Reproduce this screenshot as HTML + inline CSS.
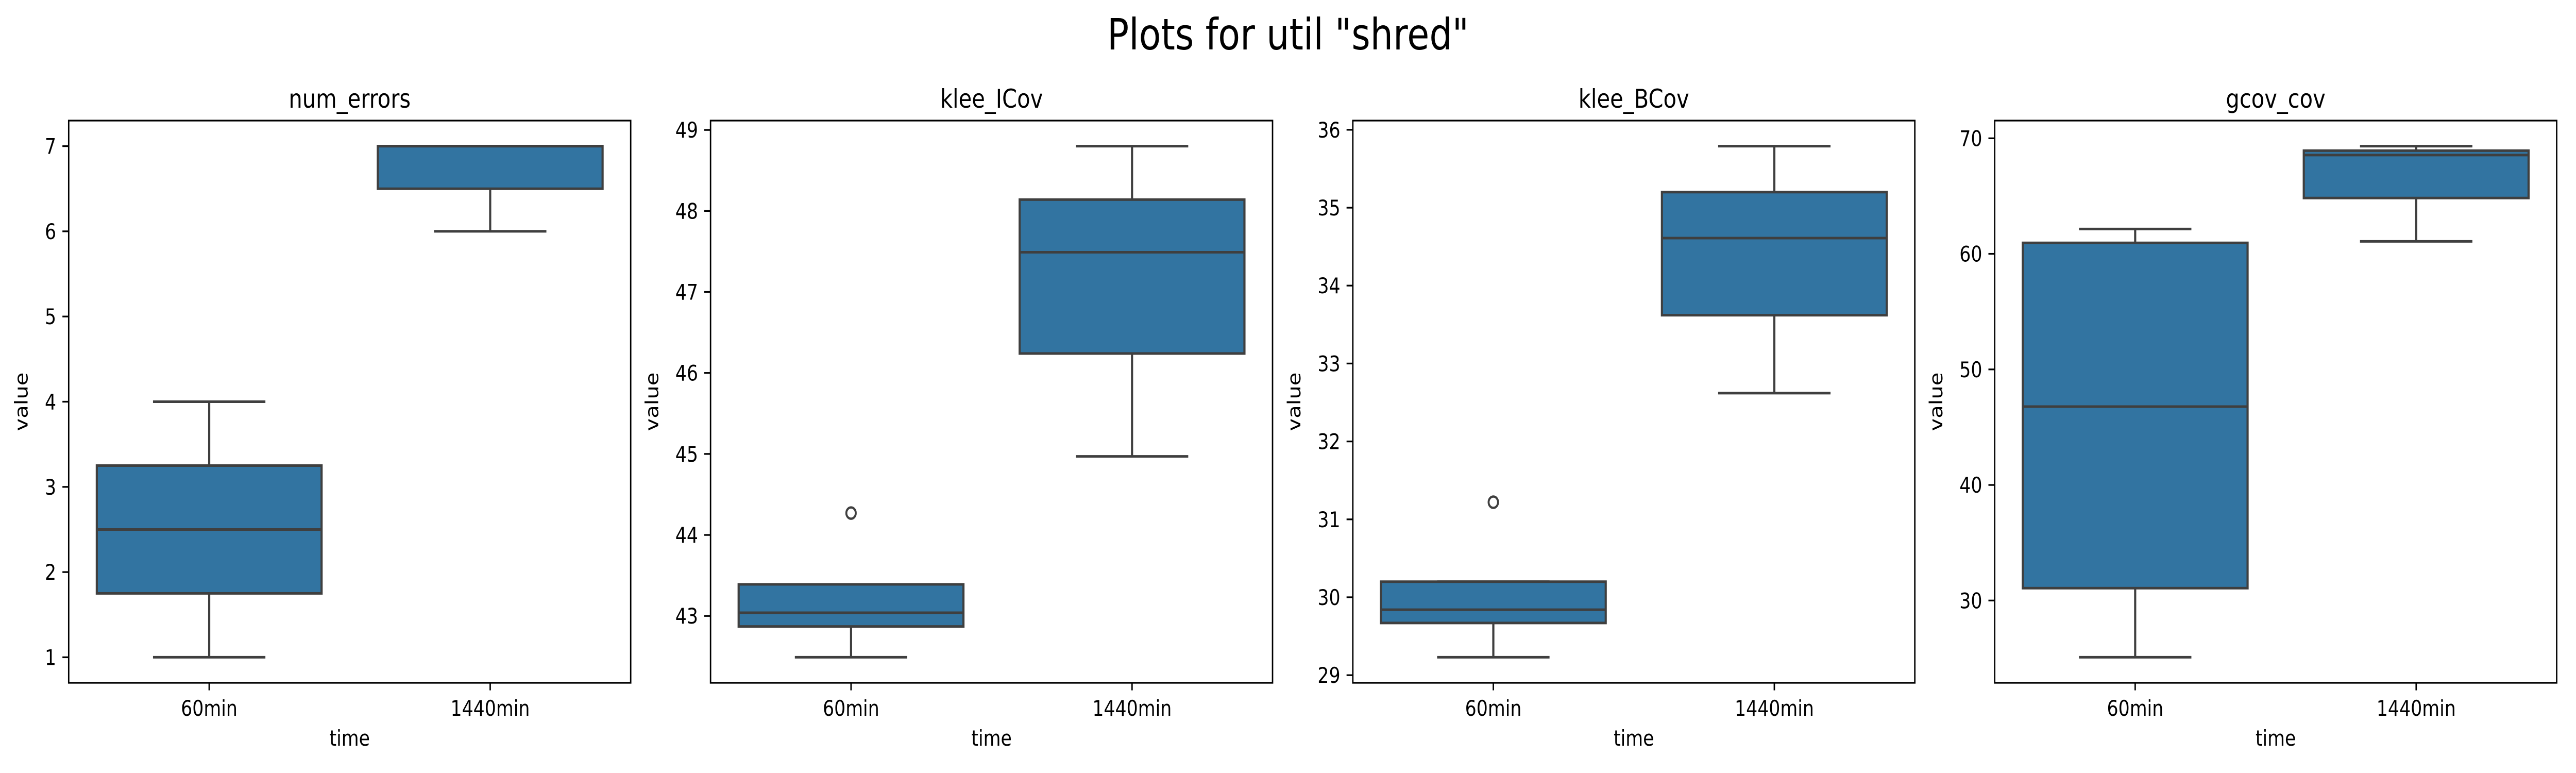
<!DOCTYPE html>
<html><head><meta charset="utf-8"><style>
html,body{margin:0;padding:0;background:#fff;width:100%;height:100%;overflow:hidden}
svg{display:block;width:100vw;height:100vh}
text{font-family:"DejaVu Sans","Liberation Sans",sans-serif;fill:#000}
</style></head><body>
<svg id="fig" viewBox="0 0 6000 1500" preserveAspectRatio="none" xmlns="http://www.w3.org/2000/svg">
<rect width="6000" height="1500" fill="#fff"/>
<text x="3000" y="96" font-size="84" text-anchor="middle">Plots for util "shred"</text>
</svg>
<script>
const categories = ["60min", "1440min"];
const panelTitles = ["num_errors", "klee_ICov", "klee_BCov", "gcov_cov"];
// [lowWhisker, q1, median, q3, highWhisker] per category
const numErrorsStats = [[1, 1.75, 2.5, 3.25, 4], [6, 6.5, 7, 7, 7]];
const kleeICovStats = [[42.49, 42.87, 43.04, 43.39, 43.39], [44.97, 46.24, 47.49, 48.14, 48.80]];
const kleeBCovStats = [[29.23, 29.67, 29.84, 30.20, 30.20], [32.62, 33.62, 34.61, 35.20, 35.79]];
const gcovCovStats = [[25.09, 31.07, 46.78, 60.95, 62.15], [61.08, 64.83, 68.55, 68.93, 69.32]];
const numErrorsOutliers = [[], []];
const kleeICovOutliers = [[44.27], []];
const kleeBCovOutliers = [[31.22], []];
const gcovCovOutliers = [[], []];
const numErrorsTicks = [1, 2, 3, 4, 5, 6, 7];
const kleeICovTicks = [43, 44, 45, 46, 47, 48, 49];
const kleeBCovTicks = [29, 30, 31, 32, 33, 34, 35, 36];
const gcovCovTicks = [30, 40, 50, 60, 70];

const allStats = [numErrorsStats, kleeICovStats, kleeBCovStats, gcovCovStats];
const allOutliers = [numErrorsOutliers, kleeICovOutliers, kleeBCovOutliers, gcovCovOutliers];
const allTicks = [numErrorsTicks, kleeICovTicks, kleeBCovTicks, gcovCovTicks];

const svg = document.getElementById('fig');
const NS = 'http://www.w3.org/2000/svg';
function mk(tag, attrs, parent) {
  const e = document.createElementNS(NS, tag);
  for (const k in attrs) e.setAttribute(k, attrs[k]);
  (parent || svg).appendChild(e);
  return e;
}
const lefts = [160, 1655, 3151, 4646];
const W = 1309, TOP = 234, BOT = 1325, H = BOT - TOP;
const LC = '#3f3f3f', FILL = '#3274a1', LW = 5;

for (let p = 0; p < 4; p++) {
  const L = lefts[p];
  const stats = allStats[p], outs = allOutliers[p], ticks = allTicks[p];
  let lo = Infinity, hi = -Infinity;
  stats.forEach((s, i) => { lo = Math.min(lo, s[0]); hi = Math.max(hi, s[4]); outs[i].forEach(v => { lo = Math.min(lo, v); hi = Math.max(hi, v); }); });
  const pad = (hi - lo) * 0.05; const y0 = lo - pad, y1 = hi + pad;
  const ys = v => BOT - (v - y0) / (y1 - y0) * H;
  const xs = c => L + (c + 0.5) / 2 * W;
  const g = mk('g', {});
  
  
  const t = mk('text', {x: L + W / 2, y: 209, 'font-size': 50, 'text-anchor': 'middle'}, g);
  t.textContent = panelTitles[p];
  
  
  stats.forEach((s, i) => {
    const cx = xs(i), hw = 0.4 / 2 * W, cw = 0.2 / 2 * W;
    const bg = mk('g', {}, g);
    
    
    mk('line', {x1: cx, x2: cx, y1: ys(s[0]), y2: ys(s[1]), stroke: LC, 'stroke-width': LW}, bg);
    mk('line', {x1: cx, x2: cx, y1: ys(s[3]), y2: ys(s[4]), stroke: LC, 'stroke-width': LW}, bg);
    mk('line', {x1: cx - cw, x2: cx + cw, y1: ys(s[0]), y2: ys(s[0]), stroke: LC, 'stroke-width': LW}, bg);
    mk('line', {x1: cx - cw, x2: cx + cw, y1: ys(s[4]), y2: ys(s[4]), stroke: LC, 'stroke-width': LW}, bg);
    mk('rect', {x: cx - hw, y: ys(s[3]), width: 2 * hw, height: ys(s[1]) - ys(s[3]), fill: FILL, stroke: LC, 'stroke-width': LW}, bg);
    mk('line', {x1: cx - hw, x2: cx + hw, y1: ys(s[2]), y2: ys(s[2]), stroke: LC, 'stroke-width': LW}, bg);
    outs[i].forEach(v => {
      const c = mk('circle', {cx: cx, cy: ys(v), r: 11, fill: 'none', stroke: LC, 'stroke-width': 4.5}, bg);
      
      
    });
    const tk = mk('line', {x1: cx, x2: cx, y1: BOT, y2: BOT + 14.6, stroke: '#000', 'stroke-width': 3.3}, g);
    
    
    const tl = mk('text', {x: cx, y: 1389, 'font-size': 41.7, 'text-anchor': 'middle'}, g);
    tl.textContent = categories[i];
    
    
  });
  let maxLen = 0;
  ticks.forEach(v => {
    const y = ys(v);
    mk('line', {x1: L - 14.6, x2: L, y1: y, y2: y, stroke: '#000', 'stroke-width': 3.3}, g);
    const tl = mk('text', {x: L - 29, y: y + 15, 'font-size': 41.7, 'text-anchor': 'end'}, g);
    tl.textContent = String(v);
    
    
    maxLen = Math.max(maxLen, String(v).length);
  });
  const frame = mk('rect', {x: L, y: TOP, width: W, height: H, fill: 'none', stroke: '#000', 'stroke-width': 3.3}, g);
  
  
  const yl = L - 29 - maxLen * 26.5 - 40;
  const ylab = mk('text', {x: yl, y: (TOP + BOT) / 2, 'font-size': 41.7, 'text-anchor': 'middle', transform: `rotate(-90 ${yl} ${(TOP + BOT) / 2})`}, g);
  ylab.textContent = 'value';
  
  
  const xlab = mk('text', {x: L + W / 2, y: 1447, 'font-size': 41.7, 'text-anchor': 'middle'}, g);
  xlab.textContent = 'time';
  
  
}
</script>
</body></html>
